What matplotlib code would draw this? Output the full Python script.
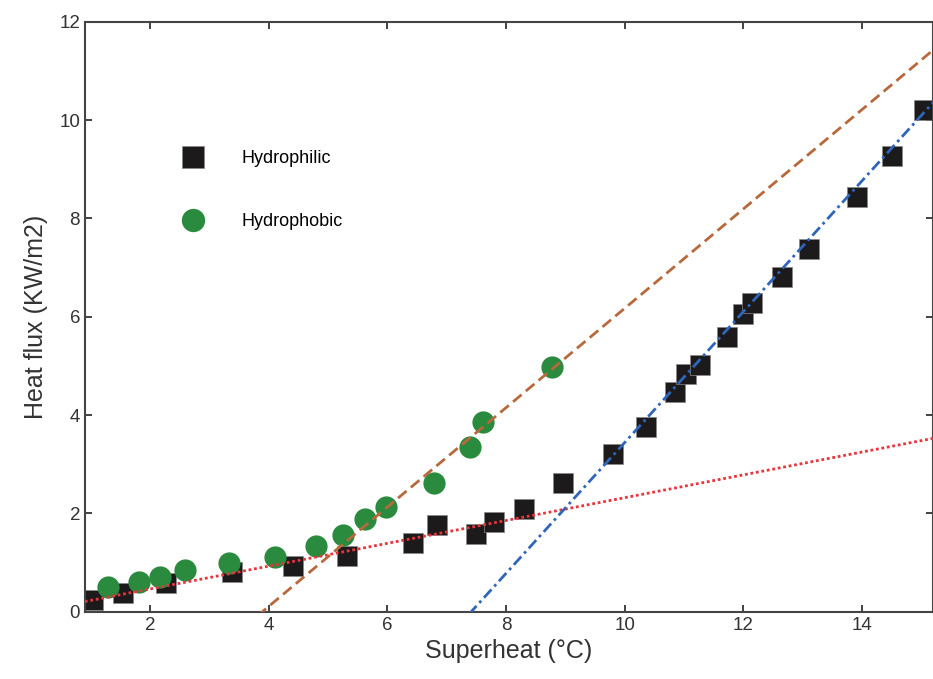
import numpy as np
import matplotlib
matplotlib.use("Agg")
import matplotlib.pyplot as plt

plt.rcParams['font.family'] = ['Liberation Sans', 'DejaVu Sans']

# hydrophilic surface (black squares)
philic_x = [1.04, 1.55, 2.27, 3.38, 4.41, 5.32, 6.43, 6.84, 7.50, 7.80, 8.31, 8.96,
            9.81, 10.36, 10.85, 11.04, 11.27, 11.73, 12.00, 12.15, 12.66, 13.11,
            13.92, 14.51, 15.05]
philic_y = [0.24, 0.39, 0.59, 0.81, 0.93, 1.14, 1.40, 1.77, 1.59, 1.83, 2.09, 2.62,
            3.21, 3.76, 4.47, 4.84, 5.02, 5.59, 6.06, 6.28, 6.81, 7.38,
            8.43, 9.27, 10.20]

# hydrophobic surface (green circles)
phobic_x = [1.29, 1.81, 2.17, 2.59, 3.33, 4.11, 4.79, 5.25, 5.63, 5.98, 6.79, 7.40, 7.62, 8.78]
phobic_y = [0.51, 0.61, 0.71, 0.85, 0.99, 1.12, 1.34, 1.56, 1.89, 2.13, 2.62, 3.35, 3.86, 4.98]

# linear fits: (slope, intercept)
fit_conv = (0.232, 0.0)        # red dotted
fit_phobic = (1.01, -3.93)     # brown dashed
fit_philic = (1.33, -9.86)     # blue dash-dot

XMIN, XMAX = 0.9, 15.2

fig = plt.figure(figsize=(9.33, 6.79), dpi=100)
ax = fig.add_axes([0.091, 0.099, 0.909, 0.869])

xs = np.linspace(XMIN, XMAX, 200)
ax.plot(xs, fit_conv[0] * xs + fit_conv[1], ls=(0, (1, 1)), color='#e8343c', lw=2.0, zorder=3)
ax.plot(xs, fit_phobic[0] * xs + fit_phobic[1], ls=(0, (4, 2)), color='#b8693c', lw=2.0, zorder=3)
ax.plot(xs, fit_philic[0] * xs + fit_philic[1], ls=(0, (4, 1.5, 1, 1.5)), color='#2f66bb', lw=2.0, zorder=3)

ax.plot(philic_x, philic_y, 's', color='#1c1a1a', ms=14.5, mec='#888888', mew=0.5,
        ls='none', label='Hydrophilic', zorder=2)
ax.plot(phobic_x, phobic_y, 'o', color='#2a8a3e', ms=16, mec='none',
        ls='none', label='Hydrophobic', zorder=2)

ax.set_xlim(XMIN, XMAX)
ax.set_ylim(0, 12)
ax.set_xticks([2, 4, 6, 8, 10, 12, 14])
ax.set_yticks([0, 2, 4, 6, 8, 10, 12])
ax.tick_params(direction='in', top=True, right=True, length=5, width=1.3,
               labelsize=13.5, labelcolor='#333333', color='#333333')
for s in ax.spines.values():
    s.set_color('#444444')
    s.set_linewidth(1.5)

ax.set_xlabel('Superheat (°C)', fontsize=18, color='#333333', labelpad=4)
ax.set_ylabel('Heat flux (KW/m2)', fontsize=18, color='#333333', labelpad=8)

ax.legend(loc='upper left', bbox_to_anchor=(0.098, 0.795), frameon=False,
          fontsize=13, handletextpad=1.65, labelspacing=2.55, borderaxespad=0,
          markerscale=1.05)

fig.savefig('out.png', dpi=100)
